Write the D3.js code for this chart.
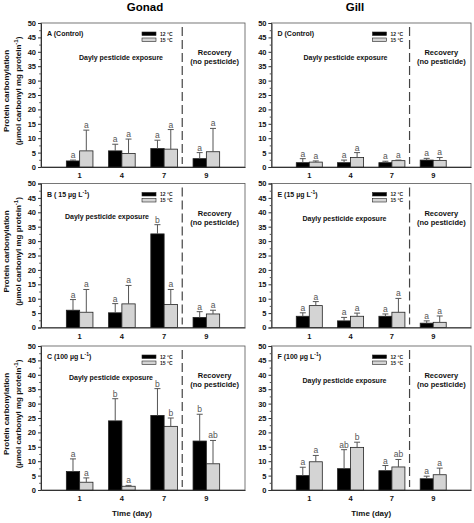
<!DOCTYPE html>
<html>
<head>
<meta charset="utf-8">
<script src="https://cdn.jsdelivr.net/npm/d3@7"></script>
<style>
  body { margin: 0; background: #fff; }
  svg { font-family: 'Liberation Sans', Arial, sans-serif; }
</style>
</head>
<body>
<div class="container"></div>
<script>
// days sampled
const days = [1, 4, 7, 9]
const tempLabels = ['12 °C', '15 °C']
const yTicks = d3.range(0, 51, 5)

// gonad, control
const gonadA_12 = [2.1, 5.6, 6.4, 2.9]
const gonadA_12se = [0.3, 2.3, 2.9, 2.1]
const gonadA_15 = [5.6, 4.7, 6.2, 5.3]
const gonadA_15se = [7.2, 5.0, 6.8, 8.1]
const gonadA_letters = [['a', 'a'], ['a', 'a'], ['a', 'a'], ['a', 'a']]
// gonad, 15 ug/L
const gonadB_12 = [6.0, 5.1, 32.5, 3.5]
const gonadB_12se = [3.7, 3.2, 3.2, 2.0]
const gonadB_15 = [5.3, 8.2, 8.0, 4.7]
const gonadB_15se = [7.9, 6.4, 5.2, 1.3]
const gonadB_letters = [['a', 'a'], ['a', 'a'], ['b', 'a'], ['a', 'a']]
// gonad, 100 ug/L
const gonadC_12 = [6.4, 24.0, 25.9, 17.0]
const gonadC_12se = [4.4, 7.7, 9.3, 9.3]
const gonadC_15 = [2.7, 1.3, 22.1, 9.1]
const gonadC_15se = [1.5, 0.3, 2.9, 8.1]
const gonadC_letters = [['a', 'a'], ['b', 'a'], ['b', 'b'], ['b', 'ab']]
// gill, control
const gillD_12 = [1.5, 1.5, 1.5, 2.4]
const gillD_12se = [1.4, 0.9, 0.5, 0.6]
const gillD_15 = [1.7, 3.3, 2.2, 2.3]
const gillD_15se = [0.4, 1.7, 0.2, 1.0]
const gillD_letters = [['a', 'a'], ['a', 'a'], ['a', 'a'], ['a', 'a']]
// gill, 15 ug/L
const gillE_12 = [3.9, 2.3, 3.9, 1.5]
const gillE_12se = [1.2, 1.2, 0.8, 0.8]
const gillE_15 = [7.6, 3.9, 5.3, 1.8]
const gillE_15se = [1.4, 1.1, 4.8, 2.2]
const gillE_letters = [['a', 'a'], ['a', 'a'], ['a', 'a'], ['a', 'a']]
// gill, 100 ug/L
const gillF_12 = [5.0, 7.4, 6.7, 3.9]
const gillF_12se = [2.9, 6.6, 1.8, 0.9]
const gillF_15 = [9.8, 14.8, 8.0, 5.3]
const gillF_15se = [2.2, 1.8, 2.6, 2.3]
const gillF_letters = [['a', 'a'], ['ab', 'b'], ['a', 'ab'], ['a', 'a']]

let width = 474
let height = 523
let cols = [{ left: 41, right: 245 }, { left: 271.5, right: 471 }]
let rowTops = [23, 183.5, 346]
let panelH = 144
let colours = ['#000000', '#d4d4d4']

// note offsets inside each panel: [x centre, y] of "Dayly pesticide exposure"
const panels = [
    { col: 0, row: 0, title: ['A (Control)'], m: [gonadA_12, gonadA_15], se: [gonadA_12se, gonadA_15se], letters: gonadA_letters, note: [80, 37] },
    { col: 0, row: 1, title: ['B ( 15 µg L', '-1', ')'], m: [gonadB_12, gonadB_15], se: [gonadB_12se, gonadB_15se], letters: gonadB_letters, note: [66, 35] },
    { col: 0, row: 2, title: ['C (100 µg L', '-1', ')'], m: [gonadC_12, gonadC_15], se: [gonadC_12se, gonadC_15se], letters: gonadC_letters, note: [70, 34] },
    { col: 1, row: 0, title: ['D (Control)'], m: [gillD_12, gillD_15], se: [gillD_12se, gillD_15se], letters: gillD_letters, note: [74, 37] },
    { col: 1, row: 1, title: ['E (15 µg L', '-1', ')'], m: [gillE_12, gillE_15], se: [gillE_12se, gillE_15se], letters: gillE_letters, note: [73, 37] },
    { col: 1, row: 2, title: ['F (100 µg L', '-1', ')'], m: [gillF_12, gillF_15], se: [gillF_12se, gillF_15se], letters: gillF_letters, note: [73, 37] }
]

let svg = d3.select('.container')
    .append('svg')
    .attr('width', width)
    .attr('height', height)

svg.append('text').attr('x', 145).attr('y', 11).attr('text-anchor', 'middle')
    .attr('font-size', 11.5).attr('font-weight', 'bold').text('Gonad')
svg.append('text').attr('x', 355).attr('y', 11).attr('text-anchor', 'middle')
    .attr('font-size', 11.5).attr('font-weight', 'bold').text('Gill')

panels.forEach(p => {
    let c = cols[p.col]
    let top = rowTops[p.row]
    let w = c.right - c.left
    let g = svg.append('g').attr('transform', `translate(${c.left},${top})`)

    let x = d3.scaleBand().domain(days).range([0, w]).paddingInner(0.37).paddingOuter(0.6)
    let xs = d3.scaleBand().domain([0, 1]).range([0, x.bandwidth()])
    let y = d3.scaleLinear().domain([0, 50]).range([panelH, 0])

    // frame
    g.append('rect').attr('width', w).attr('height', panelH)
        .attr('fill', 'none').attr('stroke', '#555').attr('stroke-width', 0.8)

    // y axis
    let ya = g.append('g').call(d3.axisLeft(y).tickValues(yTicks).tickSize(3).tickPadding(2))
    ya.selectAll('text').attr('font-size', 7.5).attr('font-weight', 'bold').attr('fill', '#111')
    ya.select('.domain').attr('stroke', '#333')
    ya.selectAll('.tick line').attr('stroke', '#333')
    g.append('g').call(d3.axisLeft(y).tickValues(d3.range(2.5, 50, 5)).tickSize(1.8).tickFormat(''))
        .call(a => a.select('.domain').remove())
        .selectAll('line').attr('stroke', '#555')

    // x axis
    let xa = g.append('g').attr('transform', `translate(0,${panelH})`)
        .call(d3.axisBottom(x).tickSize(0).tickPadding(6))
    xa.selectAll('text').attr('font-size', 7.5).attr('font-weight', 'bold').attr('fill', '#111')
    xa.select('.domain').attr('stroke', '#333')

    // dashed separator between exposure and recovery
    let sepX = (x(7) + x.bandwidth() + x(9)) / 2 - 3
    g.append('line').attr('x1', sepX).attr('x2', sepX).attr('y1', 4).attr('y2', panelH - 3)
        .attr('stroke', '#444').attr('stroke-width', 1.2).attr('stroke-dasharray', '9,4')

    // bars
    days.forEach((d, i) => {
        [0, 1].forEach(s => {
            let bx = x(d) + xs(s)
            let bw = xs.bandwidth()
            let v = p.m[s][i]
            let e = p.se[s][i]
            g.append('rect').attr('x', bx).attr('y', y(v))
                .attr('width', bw).attr('height', y(0) - y(v))
                .attr('fill', colours[s]).attr('stroke', '#222').attr('stroke-width', 0.8)
            let cx = bx + bw / 2
            g.append('line').attr('x1', cx).attr('x2', cx).attr('y1', y(v)).attr('y2', y(v + e))
                .attr('stroke', '#555').attr('stroke-width', 1)
            g.append('line').attr('x1', cx - 3).attr('x2', cx + 3).attr('y1', y(v + e)).attr('y2', y(v + e))
                .attr('stroke', '#555').attr('stroke-width', 1)
            g.append('text').attr('x', cx).attr('y', y(v + e) - 2)
                .attr('text-anchor', 'middle').attr('font-size', 8.5).attr('fill', '#555')
                .text(p.letters[i][s])
        })
    })

    // panel title
    let t = g.append('text').attr('x', 6).attr('y', 13)
        .attr('font-size', 7).attr('font-weight', 'bold').attr('fill', '#111')
    t.append('tspan').text(p.title[0])
    if (p.title.length > 1) {
        t.append('tspan').attr('dy', -3).attr('font-size', 5).text(p.title[1])
        t.append('tspan').attr('dy', 3).text(p.title[2])
    }

    // legend
    let lg = g.append('g').attr('transform', `translate(${101},${9})`)
    tempLabels.forEach((lab, s) => {
        lg.append('rect').attr('x', 0).attr('y', s * 6).attr('width', 14).attr('height', 3.5)
            .attr('fill', colours[s]).attr('stroke', '#222').attr('stroke-width', 0.6)
        lg.append('text').attr('x', 18).attr('y', s * 6 + 3.5)
            .attr('font-size', 5).attr('font-weight', 'bold').attr('fill', '#222').text(lab)
    })

    // phase notes
    g.append('text').attr('x', p.note[0]).attr('y', p.note[1]).attr('text-anchor', 'middle')
        .attr('font-size', 7).attr('font-weight', 'bold').attr('fill', '#111')
        .text('Dayly pesticide exposure')
    let rx = (sepX + w) / 2 + 1
    g.append('text').attr('x', rx).attr('y', 32).attr('text-anchor', 'middle')
        .attr('font-size', 7.5).attr('font-weight', 'bold').attr('fill', '#111').text('Recovery')
    g.append('text').attr('x', rx).attr('y', 41).attr('text-anchor', 'middle')
        .attr('font-size', 7.5).attr('font-weight', 'bold').attr('fill', '#111').text('(no pesticide)')

    // y label on left column
    if (p.col === 0) {
        let cy = top + panelH / 2 - 4
        svg.append('text').attr('transform', `translate(9,${cy}) rotate(-90)`)
            .attr('text-anchor', 'middle').attr('font-size', 8).attr('font-weight', 'bold').attr('fill', '#111')
            .text('Protein carbonylation')
        let yl2 = svg.append('text').attr('transform', `translate(21,${cy}) rotate(-90)`)
            .attr('text-anchor', 'middle').attr('font-size', 8).attr('font-weight', 'bold').attr('fill', '#111')
        yl2.append('tspan').text('(µmol carbonyl mg protein')
        yl2.append('tspan').attr('dy', -3).attr('font-size', 6).text('-1')
        yl2.append('tspan').attr('dy', 3).text(')')
    }

    if (p.row === 2) {
        svg.append('text').attr('x', c.left + w / 2 - (p.col === 0 ? 11 : 0)).attr('y', 516)
            .attr('text-anchor', 'middle').attr('font-size', 8).attr('font-weight', 'bold').attr('fill', '#111')
            .text('Time (day)')
    }
})
</script>
</body>
</html>
